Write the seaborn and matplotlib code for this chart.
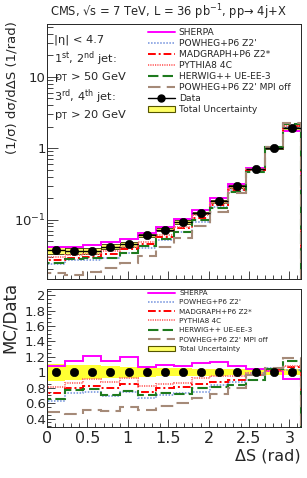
import numpy as np
import matplotlib
matplotlib.use("Agg")
import matplotlib.pyplot as plt
import seaborn as sns
from matplotlib.patches import Rectangle
from matplotlib.lines import Line2D
from matplotlib.ticker import MultipleLocator, LogLocator, NullFormatter

# ---------------- data ----------------
n_bins = 14
x_max = np.pi
data = [0.0375, 0.0366, 0.0363, 0.0417, 0.045, 0.060, 0.0726, 0.0926,
        0.1235, 0.180, 0.293, 0.51, 1.0, 1.9]
unc = [0.11, 0.10, 0.09, 0.08, 0.07, 0.06, 0.05, 0.05, 0.045, 0.045,
       0.04, 0.04, 0.03, 0.04]

ratio_sherpa = [1.084, 1.14, 1.214, 1.149, 1.197, 1.067, 1.097, 1.084,
                1.119, 1.13, 1.075, 1.045, 1.02, 0.91]
ratio_powheg = [0.63, 0.73, 0.74, 0.69, 0.75, 0.665, 0.71, 0.73,
                0.75, 0.83, 0.88, 0.99, 1.05, 1.03]
ratio_madgraph = [0.73, 0.795, 0.825, 0.795, 0.85, 0.75, 0.795, 0.81,
                  0.85, 0.88, 0.90, 0.97, 1.03, 1.07]
ratio_pythia = [0.81, 0.86, 0.91, 0.87, 0.925, 0.82, 0.85, 0.86,
                0.925, 0.95, 0.955, 0.99, 1.02, 1.085]
ratio_herwig = [0.655, 0.77, 0.785, 0.70, 0.76, 0.70, 0.73, 0.72,
                0.80, 0.815, 0.83, 0.90, 1.04, 1.14]
ratio_mpioff = [0.48, 0.46, 0.51, 0.50, 0.545, 0.51, 0.565, 0.60,
                0.665, 0.72, 0.80, 0.97, 1.05, 1.18]

labels = ["SHERPA", "POWHEG+P6 Z2'", "MADGRAPH+P6 Z2*", "PYTHIA8 4C",
          "HERWIG++ UE-EE-3", "POWHEG+P6 Z2' MPI off"]

# ---------------- style ----------------
sns.set_theme(style="ticks")
plt.rcParams["font.family"] = ["DejaVu Sans"]
plt.rcParams["xtick.direction"] = "in"
plt.rcParams["ytick.direction"] = "in"

styles = [
    dict(color="#ff00ff", ls="-", lw=1.4),
    dict(color="#6f8fdc", ls=(0, (1, 1)), lw=1.1),
    dict(color="#ff0000", ls=(0, (4, 1.5, 1, 1.5)), lw=1.4),
    dict(color="#ff7070", ls=(0, (0.6, 0.6)), lw=1.4),
    dict(color="#1e7a1e", ls=(0, (5, 2)), lw=1.5),
    dict(color="#a58a78", ls=(0, (6, 3)), lw=1.5),
]
ratios = [ratio_sherpa, ratio_powheg, ratio_madgraph, ratio_pythia,
          ratio_herwig, ratio_mpioff]

edges = np.linspace(0, x_max, n_bins + 1)
centers = 0.5 * (edges[:-1] + edges[1:])
width = edges[1] - edges[0]
data_a = np.array(data)
unc_a = np.array(unc)

fig = plt.figure(figsize=(3.07, 4.78), dpi=100)
ax = fig.add_axes([0.153, 0.4163, 0.827, 0.5335])
axr = fig.add_axes([0.153, 0.1067, 0.827, 0.2887])

# ---------------- top panel ----------------
ylo, yhi = 0.0147, 55
for i in range(n_bins):
    ax.add_patch(Rectangle((edges[i], data_a[i] * (1 - unc_a[i])), width,
                           data_a[i] * 2 * unc_a[i], facecolor="#ffff66",
                           edgecolor="#333300", lw=0.6, zorder=1))
for r, st in zip(ratios, styles):
    ax.stairs(np.array(r) * data_a, edges, baseline=ylo * 0.5,
              zorder=2, **st)
ax.errorbar(centers, data_a, xerr=width / 2, fmt="none", ecolor="black",
            elinewidth=1.0, zorder=3)
sns.scatterplot(x=centers, y=data_a, ax=ax, color="black", s=36,
                edgecolor="black", zorder=4, legend=False)
ax.set_yscale("log")
ax.set_xlim(0, x_max)
ax.set_ylim(ylo, yhi)
ax.xaxis.set_major_locator(MultipleLocator(0.5))
ax.xaxis.set_minor_locator(MultipleLocator(0.1))
ax.tick_params(axis="x", labelbottom=False, length=6, width=0.6)
ax.tick_params(axis="x", which="minor", length=3, width=0.6)
ax.tick_params(axis="y", which="major", length=8, width=0.6, labelsize=9.5, pad=1)
ax.tick_params(axis="y", which="minor", length=4, width=0.6)
ax.yaxis.set_minor_locator(LogLocator(base=10, subs=np.arange(2, 10)))
ax.yaxis.set_minor_formatter(NullFormatter())
ax.set_yticks([0.1, 1, 10])
ax.set_yticklabels(["10$^{-1}$", "1", "10"])
ax.set_ylabel("(1/σ) dσ/dΔS (1/rad)", loc="top", fontsize=9.5)
ax.yaxis.set_label_coords(-0.112, 1.01)
for sp in ax.spines.values():
    sp.set_linewidth(0.7)
fig.text(168 / 307, 1 - 12 / 478,
         "CMS, √s = 7 TeV, L = 36 pb$^{-1}$, pp→ 4j+X",
         fontsize=8.3, ha="center", va="center")

txt_kw = dict(transform=fig.transFigure, fontsize=8.2, va="center", ha="left")
fig.text(0.175, 1 - 40 / 478, "|η| < 4.7", **txt_kw)
fig.text(0.175, 1 - 59 / 478, "1$^{\\rm st}$, 2$^{\\rm nd}$ jet:", **txt_kw)
fig.text(0.175, 1 - 77 / 478, "p$_{\\rm T}$ > 50 GeV", **txt_kw)
fig.text(0.175, 1 - 97 / 478, "3$^{\\rm rd}$, 4$^{\\rm th}$ jet:", **txt_kw)
fig.text(0.175, 1 - 115 / 478, "p$_{\\rm T}$ > 20 GeV", **txt_kw)

handles = [Line2D([], [], **st) for st in styles]
handles.append(Line2D([], [], color="black", marker="o", markersize=5, lw=1))
handles.append(Rectangle((0, 0), 1, 1, facecolor="#ffff66",
                         edgecolor="#555500", lw=0.8))
leg_labels = labels + ["Data", "Total Uncertainty"]
ax.legend(handles, leg_labels, loc="upper left",
          bbox_to_anchor=(148 / 307, 1 - 28 / 478), bbox_transform=fig.transFigure,
          frameon=False, fontsize=6.6, handlelength=2.9, handletextpad=0.45,
          labelspacing=0.22, borderpad=0, borderaxespad=0)

# ---------------- ratio panel ----------------
axr.stairs(1 + unc_a, edges, baseline=1 - unc_a, fill=True,
           color="#ffff33", lw=0, zorder=1)
for r, st in zip(ratios, styles):
    axr.stairs(r, edges, zorder=2, **st)
sns.scatterplot(x=centers, y=np.ones(n_bins), ax=axr, color="black", s=36,
                edgecolor="black", zorder=4, legend=False)
axr.set_xlim(0, x_max)
axr.set_ylim(0.29, 2.08)
axr.xaxis.set_major_locator(MultipleLocator(0.5))
axr.xaxis.set_minor_locator(MultipleLocator(0.1))
axr.yaxis.set_major_locator(MultipleLocator(0.2))
axr.yaxis.set_minor_locator(MultipleLocator(0.05))
axr.set_yticks(np.arange(0.4, 2.01, 0.2))
axr.set_yticklabels(["0.4", "0.6", "0.8", "1", "1.2", "1.4", "1.6", "1.8", "2"])
axr.set_xticks([0, 0.5, 1, 1.5, 2, 2.5, 3])
axr.set_xticklabels(["0", "0.5", "1", "1.5", "2", "2.5", "3"])
axr.tick_params(axis="x", which="major", length=6, width=0.6, labelsize=11.5, pad=3)
axr.tick_params(axis="x", which="minor", length=3, width=0.6)
axr.tick_params(axis="y", which="major", length=6, width=0.6, labelsize=9.5, pad=1)
axr.tick_params(axis="y", which="minor", length=3, width=0.6)
axr.set_ylabel("MC/Data", loc="top", fontsize=12)
axr.yaxis.set_label_coords(-0.112, 1.05)
axr.set_xlabel("ΔS (rad)", loc="right", fontsize=11.5, labelpad=2)
for sp in axr.spines.values():
    sp.set_linewidth(0.7)

handles_r = [Line2D([], [], **st) for st in styles]
handles_r.append(Rectangle((0, 0), 1, 1, facecolor="#ffff66",
                           edgecolor="#555500", lw=0.8))
axr.legend(handles_r, labels + ["Total Uncertainty"], loc="upper left",
           bbox_to_anchor=(148 / 307, 1 - 290 / 478), bbox_transform=fig.transFigure,
           frameon=False, fontsize=5.2, handlelength=3.7, handletextpad=0.6,
           labelspacing=0.45, borderpad=0, borderaxespad=0)

fig.savefig("out.png", dpi=100)
